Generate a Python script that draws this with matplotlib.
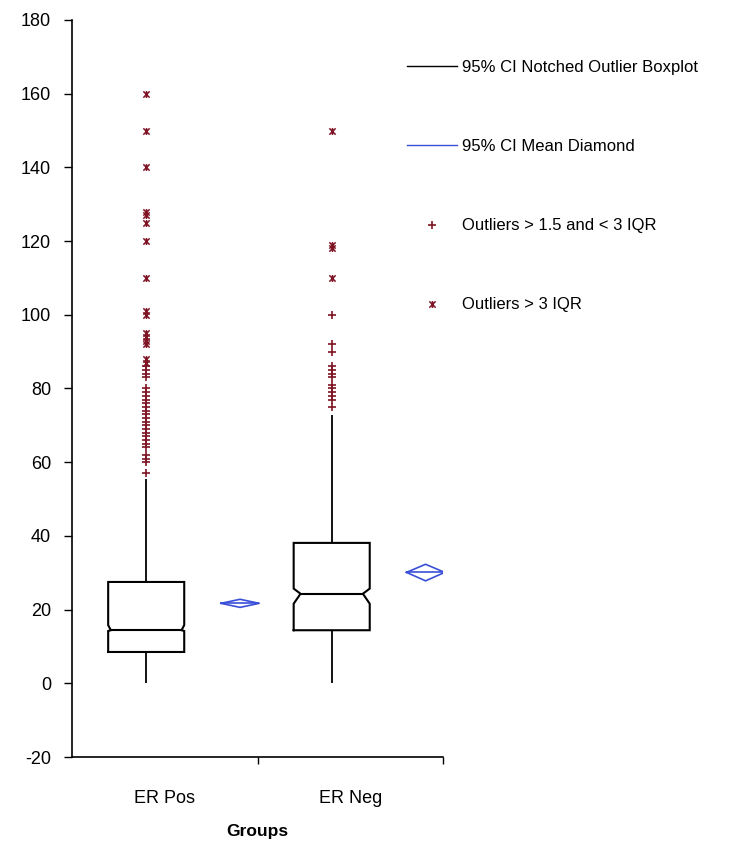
import matplotlib
matplotlib.use("Agg")
import matplotlib.pyplot as plt
import numpy as np
from matplotlib.lines import Line2D
from matplotlib.path import Path

# ── Dados ─────────────────────────────────────────────────────────────────────

groups = ["ER Pos", "ER Neg"]

q1 = [8.5, 14.4]
median = [14.4, 24.3]
q3 = [27.5, 38.1]
notch_lo = [14.2, 21.6]
notch_hi = [15.8, 25.7]
whisker_lo = [0, 0]
whisker_hi = [55.5, 72.7]

mean = [21.7, 30.1]
mean_lo = [20.6, 27.8]
mean_hi = [22.8, 32.3]

# outliers > 1.5 e < 3 IQR
mild_pos = [57, 60, 61, 62, 64, 65, 66, 67, 68, 69, 70, 71, 72, 73, 74,
            75, 76, 77, 78, 79, 80, 83, 84, 85, 86]
mild_neg = [75, 77, 78, 79, 80, 81, 83, 84, 85, 86, 90, 92, 100]
# outliers > 3 IQR
extreme_pos = [87, 88, 92, 93, 94, 95, 100, 101, 110, 120, 125, 127, 128,
               140, 150, 160]
extreme_neg = [110, 118, 119, 150]

mild = [mild_pos, mild_neg]
extreme = [extreme_pos, extreme_neg]

legend_labels = ["95% CI Notched Outlier Boxplot", "95% CI Mean Diamond",
                 "Outliers > 1.5 and < 3 IQR", "Outliers > 3 IQR"]

# ── Estilo ────────────────────────────────────────────────────────────────────

plt.rcParams["font.family"] = ["Liberation Sans", "DejaVu Sans"]
plt.rcParams["axes.unicode_minus"] = False

BOX_OFF = -0.1      # caixa deslocada à esquerda do centro da categoria
DIAM_OFF = 0.406    # diamante da média à direita
BOX_HW = 0.205
DIAM_HW = 0.103
RED = "#7f1424"
BLUE = "#3a4fd8"

# marcador "estrela" do Excel: X com traço vertical
star = Path([(-1, -1), (1, 1), (-1, 1), (1, -1), (0, -1.1), (0, 1.1)],
            [Path.MOVETO, Path.LINETO, Path.MOVETO, Path.LINETO,
             Path.MOVETO, Path.LINETO])

fig = plt.figure(figsize=(7.46, 8.44), dpi=100)
ax = fig.add_axes([72 / 746, 87 / 844, 371 / 746, 737 / 844])

for i in range(len(groups)):
    c = i + 0.5 + BOX_OFF
    d = 0.009 * (notch_hi[i] - notch_lo[i])   # recuo do entalhe
    xl, xr = c - BOX_HW, c + BOX_HW
    xs = [xl, xl, xl + d, xl, xl, xr, xr, xr - d, xr, xr, xl]
    ys = [q1[i], notch_lo[i], median[i], notch_hi[i], q3[i], q3[i],
          notch_hi[i], median[i], notch_lo[i], q1[i], q1[i]]
    ax.plot(xs, ys, color="black", lw=1.5, solid_joinstyle="miter", zorder=3)
    ax.hlines(median[i], xl + d, xr - d, color="black", lw=1.5, zorder=3)
    ax.vlines(c, q3[i], whisker_hi[i], color="black", lw=1.3, zorder=2)
    ax.vlines(c, whisker_lo[i], q1[i], color="black", lw=1.3, zorder=2)

    ax.plot(np.full(len(mild[i]), c), mild[i], ls="none", marker="+",
            ms=6, mew=1.2, color=RED, zorder=4)
    ax.plot(np.full(len(extreme[i]), c), extreme[i], ls="none", marker=star,
            ms=5, mew=1.1, color=RED, zorder=4)

    # diamante da média com IC 95%
    m = i + 0.5 + DIAM_OFF
    ax.plot([m - DIAM_HW, m, m + DIAM_HW, m, m - DIAM_HW],
            [mean[i], mean_hi[i], mean[i], mean_lo[i], mean[i]],
            color=BLUE, lw=1.2)
    ax.hlines(mean[i], m - DIAM_HW, m + DIAM_HW, color=BLUE, lw=1.2)

ax.set_xlim(0, 2)
ax.set_ylim(-20, 180)
ax.set_yticks(np.arange(-20, 181, 20))
ax.tick_params(axis="y", direction="out", length=6, width=1, pad=9,
               labelsize=13)

ax.set_xticks([1, 2])
ax.set_xticklabels([])
ax.set_xticks([0.5, 1.5], minor=True)
ax.set_xticklabels(groups, minor=True)
ax.tick_params(axis="x", which="major", direction="out", length=5, width=1)
ax.tick_params(axis="x", which="minor", length=0, pad=24, labelsize=13)
ax.set_xlabel("Groups", fontsize=12.5, fontweight="bold", labelpad=12)

for s in ("top", "right"):
    ax.spines[s].set_visible(False)
for s in ("left", "bottom"):
    ax.spines[s].set_linewidth(1.2)

handles = [
    Line2D([], [], color="black", lw=1),
    Line2D([], [], color=BLUE, lw=1),
    Line2D([], [], ls="none", marker="+", ms=6, mew=1.2, color=RED),
    Line2D([], [], ls="none", marker=star, ms=5, mew=1.1, color=RED),
]
fig.legend(handles, legend_labels, loc="upper left",
           bbox_to_anchor=(407 / 746, 1 - 60 / 844), frameon=False,
           borderpad=0, borderaxespad=0, handlelength=3.0,
           handletextpad=0.3, labelspacing=3.85, fontsize=12)

plt.savefig("out.png", dpi=100)
